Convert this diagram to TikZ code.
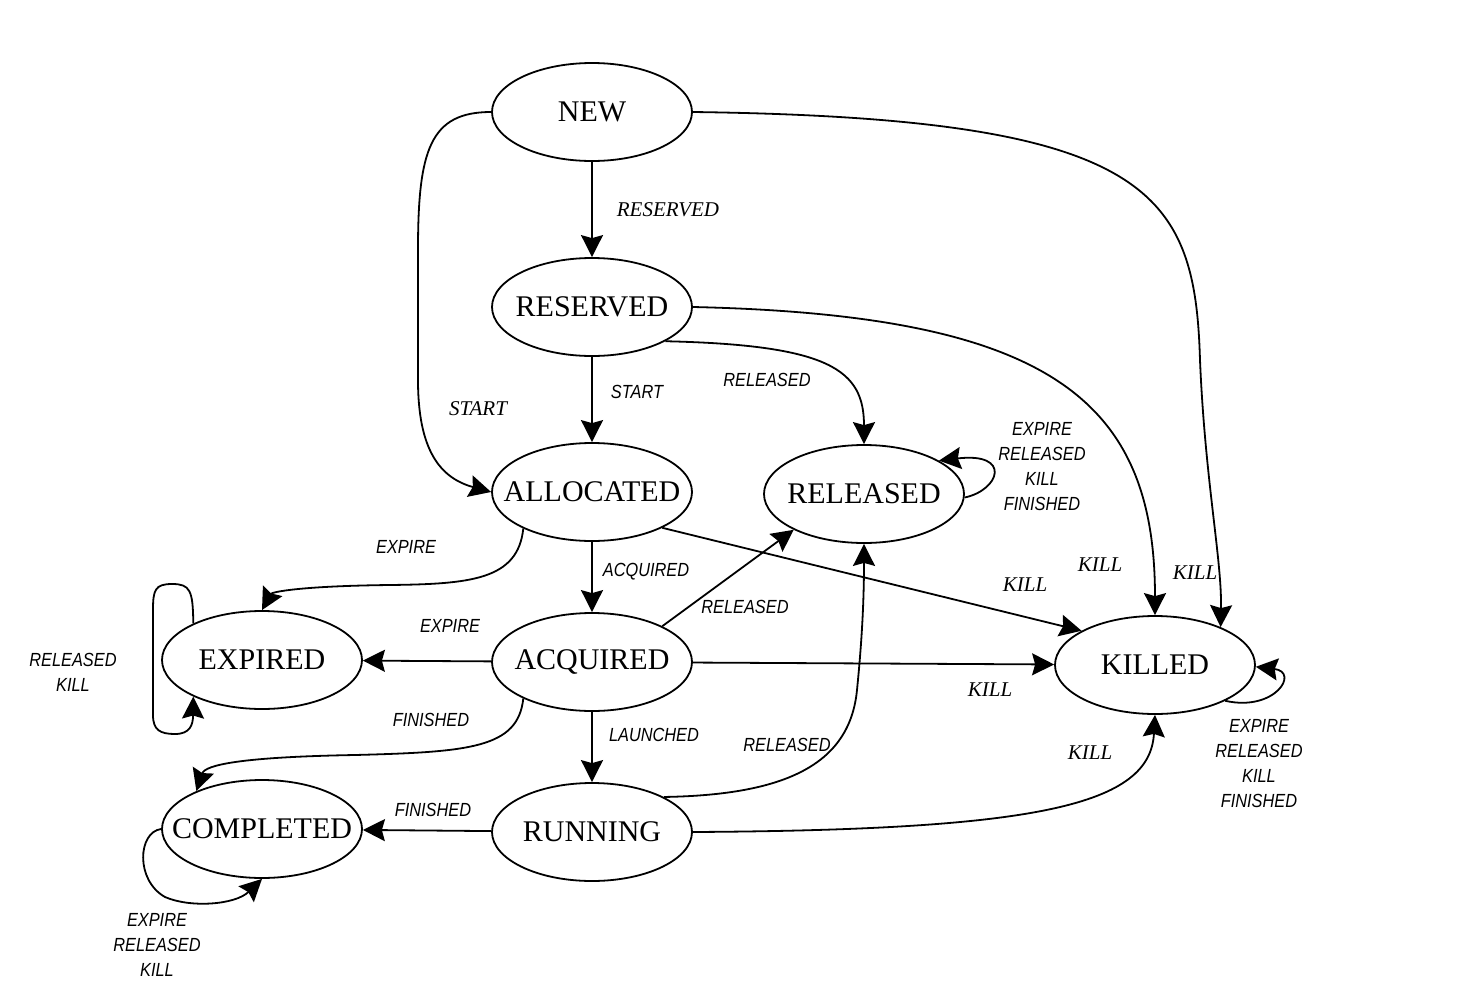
\documentclass[tikz,border=0pt]{standalone}
\usepackage{fontspec}
\setmainfont{Liberation Serif}
\newfontfamily\lblsans[FakeStretch=0.86]{Liberation Sans}
\usetikzlibrary{shapes.geometric,arrows.meta}
\tikzset{
  state/.style={ellipse, draw, line width=0.9pt, minimum width=100pt, minimum height=49pt, inner sep=0pt, font=\fontsize{15}{16}\selectfont},
  lab/.style={font=\lblsans\itshape\fontsize{9.5}{12.5}\selectfont, align=center, inner sep=0pt},
  slab/.style={font=\itshape\fontsize{10.5}{12.5}\selectfont, inner sep=0pt},
  edge/.style={draw, line width=0.9pt, -{Stealth[length=11pt,width=11pt,inset=1.5pt]}}
}
\begin{document}
\begin{tikzpicture}[x=0.5pt,y=-0.5pt]
\useasboundingbox (0,0) rectangle (1464,1002);
% states
\node[state] (NEW) at (592,112) {\makebox[0pt]{NEW}};
\node[state] (RESERVED) at (592,307) {\makebox[0pt]{RESERVED}};
\node[state] (ALLOCATED) at (592,492) {\makebox[0pt]{ALLOCATED}};
\node[state] (RELEASED) at (864,494) {\makebox[0pt]{RELEASED}};
\node[state] (EXPIRED) at (262,660) {\makebox[0pt]{EXPIRED}};
\node[state] (ACQUIRED) at (592,662) {\makebox[0pt]{ACQUIRED}};
\node[state] (KILLED) at (1155,665) {\makebox[0pt]{KILLED}};
\node[state] (COMPLETED) at (262,829) {\makebox[0pt]{COMPLETED}};
\node[state] (RUNNING) at (592,832) {\makebox[0pt]{RUNNING}};
% edges
\draw[edge] (NEW) -- (RESERVED);
\draw[edge] (NEW.west) .. controls (430,112) and (418,150) .. (418,250) -- (418,380) .. controls (418,450) and (440,478) .. (ALLOCATED.west);
\draw[edge] (NEW.east) .. controls (1150,118) and (1195,190) .. (1200,360) .. controls (1205,480) and (1222,560) .. (KILLED.30);
\draw[edge] (RESERVED.east) .. controls (1050,315) and (1155,400) .. (KILLED.north);
\draw[edge] (RESERVED) -- (ALLOCATED);
\draw[edge] (RESERVED.-25) .. controls (830,345) and (864,370) .. (RELEASED.north);
\draw[edge] (RELEASED.-2) .. controls (1000,490) and (1012,452) .. (RELEASED.24);
\draw[edge] (ALLOCATED.-27) -- (KILLED.155);
\draw[edge] (ALLOCATED.-152) .. controls (518,580) and (470,584) .. (390,585) .. controls (300,586) and (272,592) .. (EXPIRED.north);
\draw[edge] (ALLOCATED) -- (ACQUIRED);
\draw[edge] (ACQUIRED.27) -- (RELEASED.-153);
\draw[edge] (ACQUIRED) -- (EXPIRED);
\draw[edge] (ACQUIRED) -- (KILLED);
\draw[edge] (ACQUIRED.-152) .. controls (518,748) and (470,752) .. (355,755) .. controls (240,757) and (205,765) .. (COMPLETED.150);
\draw[edge] (ACQUIRED) -- (RUNNING);
\draw[edge] (RUNNING.26) .. controls (790,795) and (850,762) .. (857,690) .. controls (862,640) and (864,600) .. (RELEASED.south);
\draw[edge] (RUNNING.east) .. controls (1040,830) and (1150,805) .. (KILLED.south);
\draw[edge] (RUNNING) -- (COMPLETED);
\draw[edge] (KILLED.-27) .. controls (1275,712) and (1300,672) .. (KILLED.-1);
\draw[edge] (EXPIRED.152) .. controls (193,590) and (190,584) .. (172,584) .. controls (155,584) and (153,590) .. (153,610) -- (153,715) .. controls (153,730) and (160,734) .. (175,734) .. controls (190,734) and (193,725) .. (EXPIRED.208);
\draw[edge] (COMPLETED.west) .. controls (138,832) and (135,880) .. (165,897) .. controls (190,908) and (235,905) .. (COMPLETED.south);
% labels
\node[slab] (l1) at (668,210) {RESERVED};
\node[slab] (l2) at (478,409) {START};
\node[lab] (l3) at (637,392) {START};
\node[lab] (l4) at (767,380) {RELEASED};
\node[lab] (l5) at (1042,467) {EXPIRE\\RELEASED\\KILL\\FINISHED};
\node[slab] (l6) at (1100,565) {KILL};
\node[slab] (l7) at (1195,573) {KILL};
\node[slab] (l8) at (1025,585) {KILL};
\node[lab] (l9) at (406,547) {EXPIRE};
\node[lab] (l10) at (646,572) {ACQUIRED};
\node[lab] (l11) at (745,607) {RELEASED};
\node[lab] (l12) at (450,626) {EXPIRE};
\node[lab] (l13) at (73,672) {RELEASED\\KILL};
\node[slab] (l14) at (990,690) {KILL};
\node[lab] (l15) at (431,720) {FINISHED};
\node[lab] (l16) at (654,735) {LAUNCHED};
\node[lab] (l17) at (787,745) {RELEASED};
\node[slab] (l18) at (1090,753) {KILL};
\node[lab] (l19) at (433,810) {FINISHED};
\node[lab] (l20) at (1259,764) {EXPIRE\\RELEASED\\KILL\\FINISHED};
\node[lab] (l21) at (157,945) {EXPIRE\\RELEASED\\KILL};
\end{tikzpicture}
\end{document}
